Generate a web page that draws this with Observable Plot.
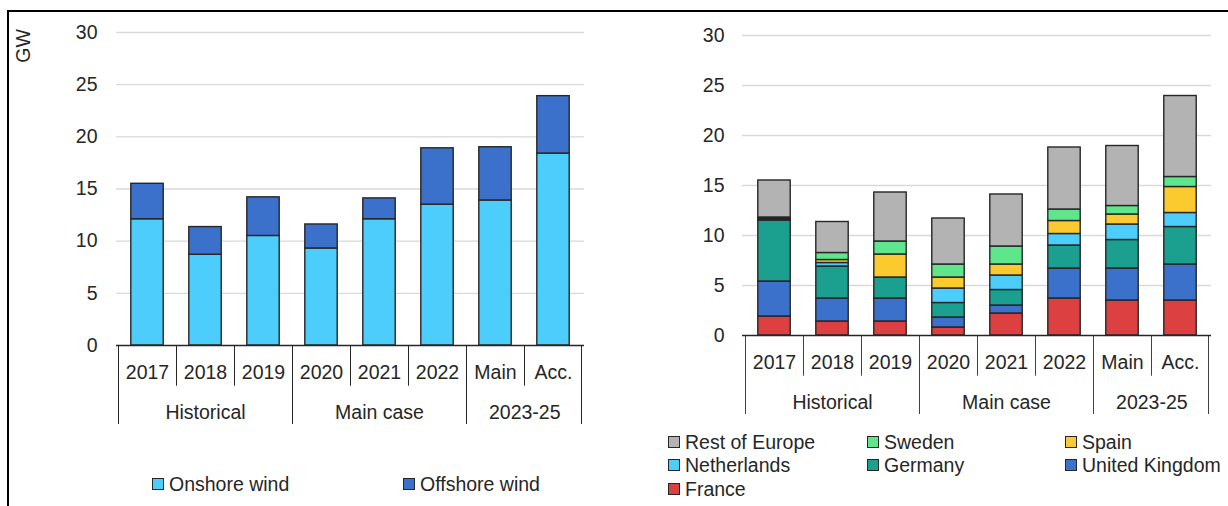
<!DOCTYPE html>
<html><head><meta charset="utf-8">
<script src="https://cdn.jsdelivr.net/npm/d3@7"></script>
<script src="https://cdn.jsdelivr.net/npm/@observablehq/plot@0.6"></script>
<style>
html,body{margin:0;padding:0;background:#fff;}
#wrap{position:relative;width:1228px;height:506px;overflow:hidden;font-family:"Liberation Sans",Arial,sans-serif;color:#262626;}
#frame{position:absolute;left:7px;top:10px;width:1260px;height:540px;border-top:2px solid #000;border-left:2px solid #000;}
.chart{position:absolute;top:0;}
.item{position:absolute;display:flex;align-items:center;white-space:nowrap;font-size:19.5px;line-height:24px;height:24px;}
.sw{width:10px;height:10px;border:1px solid #262626;margin-right:5px;box-sizing:content-box;}
#gw{position:absolute;left:23px;top:46px;font-size:19.5px;line-height:20px;transform:translate(-50%,-50%) rotate(-90deg);white-space:nowrap;}
</style></head>
<body>
<div id="wrap">
  <div id="frame"></div>
  <div id="c1" class="chart" style="left:0px"></div>
  <div id="c2" class="chart" style="left:620px"></div>
  <div id="gw">GW</div>
  <div id="legend1"></div>
  <div id="legend2"></div>
</div>
<script>
// ---- data ----
const categories = ["2017","2018","2019","2020","2021","2022","Main","Acc."];
const groupLabels = ["Historical","Main case","2023-25"];
const groupOf = [0,0,0,1,1,1,2,2];
const yTicks = [0,5,10,15,20,25,30];

// left chart (GW)
const onshore  = [12.1, 8.7, 10.5, 9.3, 12.1, 13.5, 13.9, 18.4];
const offshore = [3.4, 2.65, 3.7, 2.3, 2.0, 5.4, 5.1, 5.5];
const windSeries = ["Onshore wind","Offshore wind"];
const windColors = ["#4ccdfc","#3b71cb"];

// right chart (GW)
const france      = [1.9, 1.4, 1.4, 0.8, 2.2, 3.7, 3.5, 3.5];
const uk          = [3.5, 2.3, 2.3, 1.0, 0.8, 3.0, 3.2, 3.6];
const germany     = [6.1, 3.2, 2.1, 1.45, 1.55, 2.3, 2.85, 3.75];
const netherlands = [0.1, 0.35, 0, 1.45, 1.45, 1.15, 1.55, 1.4];
const spain       = [0.1, 0.3, 2.3, 1.1, 1.1, 1.3, 1.0, 2.6];
const sweden      = [0.1, 0.7, 1.3, 1.3, 1.8, 1.15, 0.85, 1.0];
const rest        = [3.7, 3.1, 4.9, 4.6, 5.2, 6.2, 6.0, 8.1];
const countrySeries = ["France","United Kingdom","Germany","Netherlands","Spain","Sweden","Rest of Europe"];
const countryColors = ["#dc4040","#3b71cb","#1b9f8f","#4ccdfc","#fbca2e","#5fe58b","#b3b3b3"];
const countryLegendOrder = ["Rest of Europe","Sweden","Spain","Netherlands","Germany","United Kingdom","France"];

// ---- build tables ----
const windData = [];
categories.forEach((c,i)=>{
  windData.push({cat:c, series:"Onshore wind", value:onshore[i]});
  windData.push({cat:c, series:"Offshore wind", value:offshore[i]});
});
const countryValues = [france, uk, germany, netherlands, spain, sweden, rest];
const countryData = [];
categories.forEach((c,i)=>{
  countrySeries.forEach((s,k)=>{
    if (countryValues[k][i] > 0) countryData.push({cat:c, series:s, value:countryValues[k][i]});
  });
});

const INK = "#262626";
const FS = 19.5;

function makeChart({width, height, mL, mR, mT, mB, data, series, colors, tickPad}) {
  const bw = (width - mL - mR) / categories.length;
  const px = (height - mT - mB) / 30;
  const tickLen = 40.7, groupLen = 79;
  const seps = categories.map((c,i)=>({cat:c, long: i===0 || groupOf[i]!==groupOf[i-1]}));
  const inset = 12.8;
  const gInfo = groupLabels.map((g,gi)=>{
    const idx = categories.map((c,i)=>i).filter(i=>groupOf[i]===gi);
    const mid = idx[Math.floor((idx.length-1)/2)];
    return {label:g, cat:categories[mid], even: idx.length % 2 === 0};
  });
  const marks = [
    Plot.ruleY(yTicks.filter(t=>t>0), {y:d=>d, stroke:"#d9d9d9", strokeWidth:1.3}),
    Plot.barY(data, {x:"cat", y:"value", fill:"series", z:"series", order: series,
      stroke: INK, strokeWidth: 1.4, insetLeft: inset, insetRight: inset}),
    Plot.ruleY([0], {y:d=>d, stroke: INK, strokeWidth: 1.6}),
    Plot.barY(seps, {x:"cat", y1:0, y2:d=>-(d.long?groupLen:tickLen)/px, fill:INK, insetRight: bw-1.5}),
    Plot.barY([categories[categories.length-1]], {x:d=>d, y1:0, y2:-groupLen/px, fill:INK, insetLeft: bw-1.5}),
    Plot.text(categories, {x:d=>d, frameAnchor:"bottom", dy:33, fontSize:FS, fill:INK}),
    Plot.text(gInfo.filter(d=>!d.even), {x:"cat", text:"label", frameAnchor:"bottom", dy:73, fontSize:FS, fill:INK}),
    Plot.text(gInfo.filter(d=>d.even), {x:"cat", text:"label", frameAnchor:"bottom", dy:73, dx: bw/2, fontSize:FS, fill:INK})
  ];
  return Plot.plot({
    width, height, marginLeft:mL, marginRight:mR, marginTop:mT, marginBottom:mB,
    style:{fontFamily:'"Liberation Sans", Arial, sans-serif', fontSize: FS+"px", color: INK, background:"transparent", overflow:"visible"},
    x:{domain:categories, padding:0, axis:null},
    y:{domain:[0,30], ticks:yTicks, tickSize:0, tickPadding: tickPad, label:null},
    color:{domain:series, range:colors},
    marks
  });
}

document.getElementById("c1").append(makeChart({width:600, height:440, mL:116, mR:16, mT:32, mB:95,
  data:windData, series:windSeries, colors:windColors, tickPad:19}));
document.getElementById("c2").append(makeChart({width:608, height:420, mL:122, mR:17, mT:35, mB:85,
  data:countryData, series:countrySeries, colors:countryColors, tickPad:18}));

// ---- legends (HTML) ----
function addItem(parent, label, color, left, cy) {
  const d = document.createElement("div");
  d.className = "item";
  d.style.left = left + "px";
  d.style.top = (cy - 12) + "px";
  const s = document.createElement("span");
  s.className = "sw"; s.style.background = color;
  const t = document.createElement("span");
  t.textContent = label;
  d.append(s, t);
  parent.append(d);
}
const l1 = document.getElementById("legend1");
const l1pos = [[152,484],[403,484]];
windSeries.forEach((s,i)=> addItem(l1, s, windColors[i], l1pos[i][0], l1pos[i][1]));
const l2 = document.getElementById("legend2");
const cols = [668, 867, 1065], rows = [442, 465, 489];
countryLegendOrder.forEach((s,i)=>{
  addItem(l2, s, countryColors[countrySeries.indexOf(s)], cols[i%3], rows[Math.floor(i/3)]);
});
</script>
</body></html>
